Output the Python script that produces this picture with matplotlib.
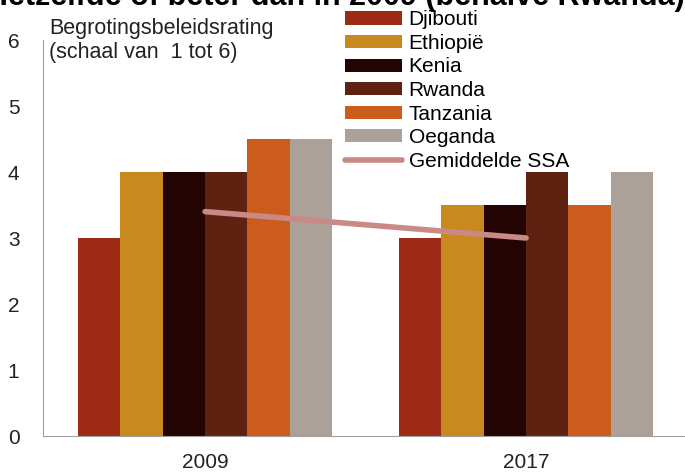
import numpy as np
import matplotlib.pyplot as plt

plt.rcParams['font.family'] = ['Liberation Sans', 'DejaVu Sans']

years = ["2009", "2017"]
countries = ["Djibouti", "Ethiopië", "Kenia", "Rwanda", "Tanzania", "Oeganda"]
colors = ["#9c2a14", "#c8891e", "#230402", "#5e2310", "#cc5c1e", "#aba199"]
ratings = {
    "Djibouti": [3.0, 3.0],
    "Ethiopië": [4.0, 3.5],
    "Kenia": [4.0, 3.5],
    "Rwanda": [4.0, 4.0],
    "Tanzania": [4.5, 3.5],
    "Oeganda": [4.5, 4.0],
}
ssa_avg = [3.4, 3.0]

fig = plt.figure(figsize=(6.85, 4.75), dpi=100)
ax = fig.add_axes([43 / 685, 39 / 475, 642 / 685, 396 / 475])

x = np.arange(len(years))
w = 0.132
handles = []
for i, c in enumerate(countries):
    b = ax.bar(x + (i - 2.5) * w, ratings[c], width=w, color=colors[i], label=c)
    handles.append(b)
ln, = ax.plot(x, ssa_avg, color="#c98a86", lw=4, solid_capstyle="round", label="Gemiddelde SSA")
handles.append(ln)

ax.set_xlim(-0.505, 1.495)
ax.set_ylim(0, 6)
ax.set_yticks(range(7))
ax.set_xticks(x)
ax.set_xticklabels(years)
ax.tick_params(length=0, labelsize=15, colors="#222222")
ax.tick_params(axis="y", pad=17)
ax.tick_params(axis="x", pad=12)
for s in ["top", "right"]:
    ax.spines[s].set_visible(False)
for s in ["left", "bottom"]:
    ax.spines[s].set_color("#a0a0a0")

ax.text(0.01, 1.055, "Begrotingsbeleidsrating\n(schaal van  1 tot 6)", transform=ax.transAxes,
        fontsize=15.5, va="top", ha="left", linespacing=1.2, color="#222222")

ax.legend(handles=handles, loc="upper left", bbox_to_anchor=(302 / 642, 1.075), frameon=False,
          fontsize=15, handlelength=2.75, handleheight=0.6, labelspacing=0.22,
          handletextpad=0.3, borderaxespad=0, borderpad=0)

# title is cut off at the top edge in the original
fig.text(-0.02, 1 - 5 / 475, "Hetzelfde of beter dan in 2009 (behalve Rwanda)",
         fontsize=22, fontweight="bold", va="baseline", ha="left")

fig.savefig("out.png", dpi=100)
